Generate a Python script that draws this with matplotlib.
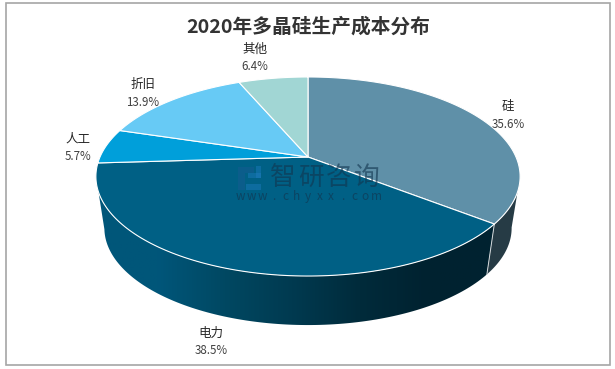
import matplotlib
matplotlib.use("Agg")
import matplotlib.pyplot as plt
from matplotlib.colors import LinearSegmentedColormap
from matplotlib.patches import Polygon, Rectangle
import numpy as np

plt.rcParams["font.family"] = ["Noto Sans CJK SC", "DejaVu Sans"]

TITLE = "2020年多晶硅生产成本分布"
labels = ["硅", "电力", "人工", "折旧", "其他"]
shares = [35.6, 38.5, 5.7, 13.9, 6.4]
colors = ["#5F90A8", "#006085", "#009FDA", "#67CAF5", "#A1D6D4"]
label_xy = [(508, 106), (211, 333), (78, 139), (143, 84), (255, 49)]
side_stops = ["#005679", "#00567A", "#004862", "#003A50", "#002B3B", "#002230", "#002330"]

# tilted disc: apex position and perspective, in image pixels
CX, CY = 308, 157
BX, AY, PERSP = 208, 95.7, 0.196
BOTTOM_Y, BOTTOM_SX, BOTTOM_SY = 209, 0.96, 0.975


def project(deg, sx=1.0, sy=1.0, y0=CY):
    rad = np.radians(deg)
    d = 1 + PERSP * np.cos(rad)
    return CX + sx * BX * np.sin(rad) / d, y0 - sy * AY * np.cos(rad) / d


def arc(start, end, bottom=False):
    t = np.linspace(start, end, 120)
    if bottom:
        x, y = project(t, BOTTOM_SX, BOTTOM_SY, BOTTOM_Y)
    else:
        x, y = project(t)
    return np.column_stack([x, y])


def draw_sides(ax, split):
    # right part, silhouette runs from the top rim to the bottom rim
    pts = np.vstack([arc(110, split), arc(split, 101, bottom=True)])
    ax.add_patch(Polygon(pts, fc="#263B45", ec="none", zorder=1))

    pts = np.vstack([arc(split, 250), arc(258, split, bottom=True)])
    cmap = LinearSegmentedColormap.from_list("side", side_stops)
    im = ax.imshow(np.linspace(0, 1, 256).reshape(1, -1), cmap=cmap, aspect="auto",
                   extent=(90, 495, 335, 150), zorder=1)
    im.set_clip_path(Polygon(pts, transform=ax.transData))

    x, y = project(split)
    xb, yb = project(split, BOTTOM_SX, BOTTOM_SY, BOTTOM_Y)
    ax.plot([x, xb], [y, yb], color="#D5DADC", lw=0.7, zorder=2)


def draw_top(ax, angles):
    for i, color in enumerate(colors):
        rim = arc(angles[i], angles[i + 1])
        pts = np.vstack([[CX, CY], rim])
        ax.add_patch(Polygon(pts, fc=color, ec="white", lw=0.8, joinstyle="round", zorder=3))


def draw_watermark(ax):
    wm = "#12354F"
    ax.add_patch(Rectangle((238, 167), 7, 23, fc="#1A5A94", alpha=0.45, ec="none", zorder=4))
    ax.add_patch(Rectangle((245, 167), 9, 6, fc="#1A5A94", alpha=0.45, ec="none", zorder=4))
    ax.add_patch(Rectangle((248, 173), 13, 5, fc="#1F7CC0", alpha=0.45, ec="none", zorder=4))
    ax.add_patch(Rectangle((256, 166), 5, 12, fc="#1F7CC0", alpha=0.45, ec="none", zorder=4))
    ax.add_patch(Rectangle((246, 184), 15, 6, fc="#1F7CC0", alpha=0.45, ec="none", zorder=4))
    for i, ch in enumerate("智研咨询"):
        ax.text(283 + i * 27.8, 178, ch, fontsize=18.5, color=wm, alpha=0.6,
                ha="center", va="center", zorder=4)
    for i, ch in enumerate("www.chyxx.com"):
        ax.text(240 + i * 11.4, 196.5, ch, fontsize=8.5, color=wm, alpha=0.65,
                ha="center", va="center", zorder=4)


def main():
    fig = plt.figure(figsize=(6.15, 3.69), dpi=100)
    ax = fig.add_axes([0, 0, 1, 1])

    share_arr = np.array(shares)
    angles = np.concatenate([[0], np.cumsum(share_arr) / share_arr.sum() * 360])

    draw_sides(ax, angles[1])
    draw_top(ax, angles)
    draw_watermark(ax)

    ax.add_patch(Rectangle((5.5, 3), 604.5, 362, fc="none", ec="#A6A6A6", lw=1.2, zorder=5))
    ax.text(308, 27, TITLE, fontsize=14.2, fontweight="bold", color="#333333",
            ha="center", va="center", zorder=6)

    for name, value, (x, y) in zip(labels, shares, label_xy):
        ax.text(x, y, name, fontsize=9, color="#262626", ha="center", va="center", zorder=6)
        ax.text(x, y + 18, f"{value:.1f}%", fontsize=8.3, color="#404040",
                ha="center", va="center", zorder=6)

    ax.set_xlim(0, 615)
    ax.set_ylim(369, 0)
    ax.axis("off")
    fig.savefig("out.png", dpi=100, facecolor="white")
    plt.close(fig)


if __name__ == "__main__":
    main()
